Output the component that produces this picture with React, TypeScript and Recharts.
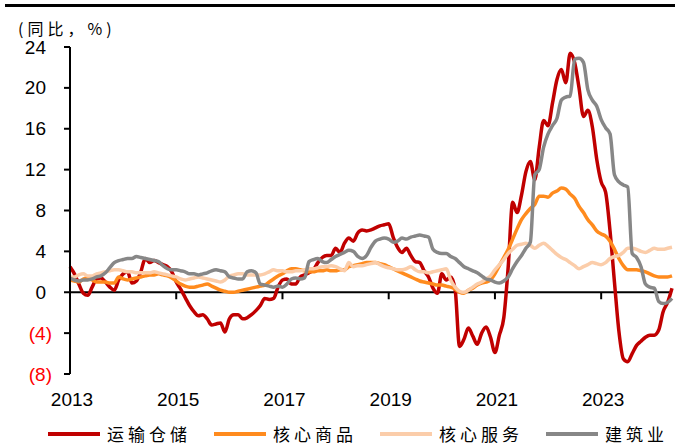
import { LineChart, Line, XAxis, YAxis, ReferenceLine } from "recharts";

// monthly, Jan 2013 .. May 2024, yoy %
const transport = [
  2.5, 1.8, 0.8, -0.1, -0.3, 0.5, 1.3, 1.4, 1.0, 0.5, 0.2, 1.2,
  1.8, 2.0, 0.9, 1.1, 2.0, 3.3, 2.9, 3.1, 2.9, 2.7, 2.5, 2.0,
  1.0, 0.3, -0.5, -1.3, -1.9, -2.3, -2.2, -2.6, -3.2, -3.1, -3.0, -3.9,
  -2.6, -2.2, -2.2, -2.6, -2.5, -2.2, -1.8, -1.3, -0.6, -0.7, -0.6, 0.5,
  1.2, 1.3, 0.8, 0.8, 1.5, 1.7, 1.9, 2.2, 2.9, 3.4, 3.6, 3.6,
  4.3, 3.9, 4.8, 5.3, 5.0, 5.8, 6.1, 6.0, 6.1, 6.3, 6.5, 6.6,
  6.7, 5.4, 4.4, 3.9, 4.3, 3.6, 3.0, 2.9, 2.1, 1.5, 0.4, -0.1,
  1.8, 1.2, 1.5, 0.3, -5.3, -4.6, -3.5, -4.3, -5.1, -4.0, -3.4, -4.4,
  -5.9, -4.2, -2.5, 2.5, 8.8, 7.8, 9.5, 11.8, 12.8, 11.0, 14.2, 16.8,
  16.3, 18.5, 20.8, 21.8, 20.5, 23.4, 22.5, 20.0, 17.2, 17.8, 16.2, 13.0,
  10.8, 9.8, 6.0, 1.0, -3.8, -6.5, -6.8, -6.0, -5.2, -4.8, -4.4, -4.2,
  -4.2, -3.7, -1.9, -1.0, 0.4,
];

const coreGoods = [
  1.2, 1.1, 1.0, 1.3, 1.4, 1.2, 1.0, 1.0, 1.0, 0.9, 0.9, 1.5,
  1.3, 1.2, 1.3, 1.4, 1.5, 1.6, 1.7, 1.7, 1.8, 1.7, 1.6, 1.4,
  1.1, 0.8, 0.6, 0.5, 0.5, 0.6, 0.7, 0.8, 0.6, 0.4, 0.2, 0.1,
  0.0, 0.0, 0.1, 0.2, 0.3, 0.4, 0.5, 0.6, 0.7, 1.0, 1.3, 1.6,
  1.8, 2.1, 2.3, 2.3, 2.2, 2.1, 2.0, 2.0, 2.1, 2.1, 2.2, 2.1,
  2.1, 2.2, 2.2, 2.5, 2.6, 2.7, 2.8, 2.9, 2.9, 2.9, 2.8, 2.7,
  2.5, 2.3, 2.1, 1.9, 1.7, 1.5, 1.3, 1.1, 1.0, 0.9, 0.8, 0.7,
  0.7, 0.6, 0.5, 0.3, 0.0, -0.1, 0.2, 0.4, 0.7, 0.9, 1.0, 1.2,
  1.8, 2.6, 3.4, 4.2, 5.2, 6.2, 7.1, 7.7, 8.2, 8.6, 9.4, 9.4,
  9.3, 9.7, 9.9, 10.2, 10.1, 9.6, 9.2, 8.4, 7.8, 7.1, 6.6, 6.0,
  5.7, 5.5, 5.0, 4.2, 3.3, 2.6, 2.2, 2.2, 2.2, 2.1, 2.0, 1.8,
  1.6, 1.5, 1.5, 1.5, 1.6,
];

const coreServices = [
  1.5, 1.5, 1.7, 1.8, 1.6, 1.6, 1.8, 1.9, 2.0, 2.1, 2.2, 2.2,
  2.1, 2.0, 2.0, 1.9, 1.9, 1.9, 1.9, 2.0, 1.9, 1.8, 1.7, 1.6,
  1.5, 1.3, 1.2, 1.3, 1.4, 1.5, 1.4, 1.3, 1.2, 1.1, 1.0, 1.2,
  1.6, 1.7, 1.8, 1.8, 1.7, 1.7, 1.7, 1.7, 1.8, 2.0, 2.2, 2.1,
  2.1, 2.0, 2.0, 2.1, 2.1, 2.2, 2.3, 2.3, 2.4, 2.5, 2.5, 2.6,
  2.5, 2.3, 2.1, 2.9, 2.5, 2.6, 2.6, 2.7, 2.8, 2.9, 2.7, 2.5,
  2.4, 2.3, 2.2, 2.2, 2.3, 2.5, 2.2, 2.0, 2.0, 1.9, 2.0, 2.1,
  2.2, 2.3, 1.2, 0.5, 0.1, 0.0, 0.2, 0.5, 0.8, 1.0, 1.3, 1.6,
  2.2, 2.7, 3.2, 3.8, 4.2, 4.6, 4.7, 4.8, 4.6, 4.3, 4.6, 4.8,
  4.5, 4.1, 3.7, 3.4, 3.2, 2.9, 2.6, 2.3, 2.5, 2.7, 2.9, 2.8,
  2.7, 2.9, 3.3, 3.5, 3.6, 3.9, 4.3, 4.3, 4.2, 4.0, 3.9, 4.1,
  4.3, 4.2, 4.2, 4.3, 4.4,
];

const construction = [
  1.4, 1.2, 1.1, 1.2, 1.2, 1.3, 1.5, 1.6, 1.9, 2.4, 2.9, 3.1,
  3.2, 3.3, 3.3, 3.5, 3.4, 3.3, 3.2, 3.1, 3.0, 2.6, 2.3, 2.2,
  2.2, 2.1, 2.0, 1.8, 1.8, 1.7, 1.8, 1.9, 2.1, 2.2, 2.1, 2.0,
  1.5, 1.4, 1.3, 1.3, 2.0, 2.1, 1.9, 0.8, 0.7, 0.6, 0.5, 0.6,
  0.5, 0.8, 1.3, 1.4, 1.3, 1.4, 3.0, 3.2, 3.3, 3.0, 2.9, 3.2,
  3.5, 3.7, 3.9, 4.1, 4.0, 3.5, 3.3, 3.6, 4.4, 5.0, 5.2, 5.3,
  5.2, 4.9, 5.0, 5.3, 5.2, 5.4, 5.5, 5.6, 5.5, 5.4, 4.2, 3.9,
  3.8, 3.8, 3.5, 3.3, 2.9, 2.5, 2.3, 2.1, 1.9, 1.6, 1.3, 1.2,
  1.0, 0.9, 1.1, 1.5, 2.3, 3.0, 3.6, 4.3, 4.9, 11.5, 12.0, 14.2,
  15.5, 16.3, 17.0, 18.8, 19.1, 19.2, 22.8, 22.9, 22.5, 19.8, 18.8, 18.2,
  16.9, 16.1, 15.5, 11.5, 10.8, 10.5, 10.3, 3.8, 3.4, 2.5, 0.8, 0.5,
  0.4, -0.9, -1.1, -1.0, -0.6,
];

const xTicks = [2013, 2015, 2017, 2019, 2021, 2023];
const yTicks = [-8, -4, 0, 4, 8, 12, 16, 20, 24];

const series = [
  { key: "transport", name: "运输仓储", color: "#C00000", width: 3.5 },
  { key: "goods", name: "核心商品", color: "#FF8B1E", width: 3.5 },
  { key: "services", name: "核心服务", color: "#FBCDAA", width: 3.5 },
  { key: "construction", name: "建筑业", color: "#878787", width: 3.5 },
];

const data = transport.map((v, i) => ({
  t: 2013 + i / 12,
  transport: v,
  goods: coreGoods[i],
  services: coreServices[i],
  construction: construction[i],
}));

const W = 675;
const H = 446;
const TOP = 47;
const BOTTOM = 72;
const PLOT_H = H - TOP - BOTTOM;
const ZERO_OFF = (PLOT_H * 8) / 32; // plot bottom -> 0 line

const numFont = "'Liberation Sans', Arial, sans-serif";
const cjkFont = "'Noto Sans CJK SC', sans-serif";

function YTick({ x, y, payload }: any) {
  const v = payload.value;
  const neg = v < 0;
  return (
    <text x={neg ? x + 6 : x} y={y} dy={6.5} textAnchor="end" fontSize={19} fontFamily={numFont} fill={neg ? "#FF0000" : "#000"}>
      {neg ? `(${-v})` : v}
    </text>
  );
}

function XTick({ x, y, payload }: any) {
  return (
    <g>
      {payload.value !== 2013 && <line x1={x} x2={x} y1={y - ZERO_OFF} y2={y - ZERO_OFF + 7} stroke="#000" strokeWidth={2} />}
      <text x={x + 2} y={y + 32} textAnchor="middle" fontSize={19} fontFamily={numFont} fill="#000">
        {payload.value}
      </text>
    </g>
  );
}

export default function App() {
  return (
    <div style={{ position: "absolute", left: 0, top: 0, width: W, height: H, background: "#fff", overflow: "hidden" }}>
      <div style={{ position: "absolute", left: 5, top: 4, width: 670, height: 3, background: "#000" }} />
      <div style={{ position: "absolute", left: 18, top: 20, fontSize: 16, letterSpacing: 4, fontFamily: cjkFont, color: "#000", lineHeight: "16px", whiteSpace: "nowrap" }}>
        (同比，%)
      </div>
      <LineChart width={W} height={H} data={data} margin={{ top: TOP, right: 3, bottom: 0, left: 0 }}>
        <XAxis
          dataKey="t"
          type="number"
          domain={[2013, 2013 + 136 / 12]}
          ticks={xTicks}
          axisLine={false}
          tickLine={false}
          tickSize={0}
          tickMargin={0}
          height={BOTTOM}
          tick={<XTick />}
          interval={0}
        />
        <YAxis
          domain={[-8, 24]}
          ticks={yTicks}
          width={70}
          axisLine={{ stroke: "#000", strokeWidth: 2 }}
          tickLine={{ stroke: "#000", strokeWidth: 2 }}
          tickSize={6}
          tickMargin={18}
          tick={<YTick />}
          interval={0}
        />
        <ReferenceLine y={0} stroke="#000" strokeWidth={2} />
        {series.map((s) => (
          <Line key={s.key} type="monotone" dataKey={s.key} stroke={s.color} strokeWidth={s.width} dot={false} isAnimationActive={false} />
        ))}
      </LineChart>
      <div style={{ position: "absolute", left: 48, top: 422, width: 627, display: "flex", alignItems: "center", fontFamily: cjkFont, fontSize: 17, letterSpacing: 4, color: "#000", whiteSpace: "nowrap" }}>
        {series.map((s) => (
          <div key={s.key} style={{ display: "flex", alignItems: "center", marginRight: 23, flexShrink: 0 }}>
            <div style={{ width: 52, height: 4, background: s.color }} />
            <span style={{ marginLeft: 7, lineHeight: "24px" }}>{s.name}</span>
          </div>
        ))}
      </div>
    </div>
  );
}
